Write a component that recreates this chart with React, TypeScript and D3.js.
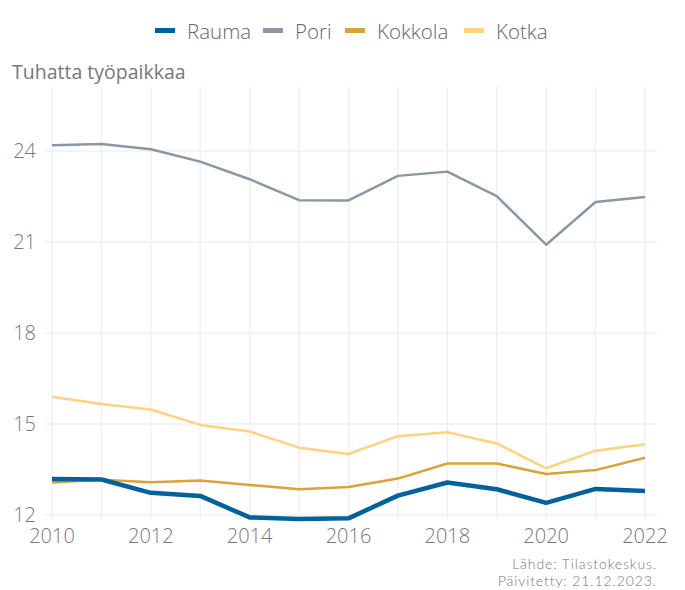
import React from "react";
import * as d3 from "d3";

const years = [2010, 2011, 2012, 2013, 2014, 2015, 2016, 2017, 2018, 2019, 2020, 2021, 2022];
const rauma = [13.19, 13.17, 12.73, 12.63, 11.92, 11.87, 11.89, 12.64, 13.07, 12.85, 12.4, 12.86, 12.79];
const pori = [24.19, 24.23, 24.06, 23.65, 23.07, 22.38, 22.37, 23.18, 23.32, 22.51, 20.91, 22.32, 22.48];
const kokkola = [13.07, 13.16, 13.08, 13.14, 12.99, 12.85, 12.92, 13.2, 13.7, 13.7, 13.35, 13.48, 13.89];
const kotka = [15.9, 15.66, 15.48, 14.97, 14.75, 14.22, 14.01, 14.6, 14.73, 14.36, 13.54, 14.12, 14.33];
const seriesNames = ["Rauma", "Pori", "Kokkola", "Kotka"];
const yTicks = [12, 15, 18, 21, 24];
const xTicks = [2010, 2012, 2014, 2016, 2018, 2020, 2022];

const colors = ["#00629b", "#8a98a3", "#dba236", "#ffd37d"];
const widths = [4.5, 2.5, 2.5, 2.5];

export default function App() {
  const W = 685, H = 590;
  const x = d3.scaleLinear().domain([2010, 2022]).range([52, 645]);
  const y = d3.scaleLinear().domain([12, 24]).range([515, 151]);
  const panelLeft = 45, panelRight = 657, panelTop = 87, panelBottom = 519;
  const data = [rauma, pori, kokkola, kotka];
  const line = d3.line<number>().x((_, i) => x(years[i])).y((v) => y(v));
  const font = "'Open Sans', Lato, sans-serif";
  const legendX = [155, 263, 345, 464];

  return (
    <svg width={W} height={H} style={{ position: "absolute", left: 0, top: 0, background: "#fff" }}>
      {years.map((yr) => (
        <line key={"v" + yr} x1={x(yr)} x2={x(yr)} y1={panelTop} y2={panelBottom} stroke="#f0f0f0" strokeWidth={1.5} />
      ))}
      {yTicks.map((t) => (
        <line key={"h" + t} x1={panelLeft} x2={panelRight} y1={y(t)} y2={y(t)} stroke="#f0f0f0" strokeWidth={1.5} />
      ))}
      {yTicks.map((t) => (
        <text key={"yl" + t} x={36} y={y(t) + 7} textAnchor="end" fontFamily={font} fontWeight={300} fontSize={20} fill="#777">
          {t}
        </text>
      ))}
      {xTicks.map((t) => (
        <text key={"xl" + t} x={x(t)} y={543} textAnchor="middle" fontFamily={font} fontWeight={300} fontSize={20} fill="#777">
          {t}
        </text>
      ))}
      {[1, 2, 3, 0].map((k) => (
        <path key={"s" + k} d={line(data[k]) || ""} fill="none" stroke={colors[k]} strokeWidth={widths[k]} strokeLinejoin="round" />
      ))}
      {seriesNames.map((n, k) => (
        <g key={"lg" + n}>
          <rect x={legendX[k]} y={28} width={20} height={5} fill={colors[k]} />
          <text x={legendX[k] + 32} y={38.5} fontFamily={font} fontWeight={300} fontSize={20.5} fill="#666">
            {n}
          </text>
        </g>
      ))}
      <text x={12} y={78.5} fontFamily={font} fontWeight={400} fontSize={19.5} fill="#777">
        Tuhatta työpaikkaa
      </text>
      <text x={657} y={569} textAnchor="end" fontFamily="Lato, sans-serif" fontWeight={300} fontSize={14} letterSpacing={0.9} fill="#777">
        Lähde: Tilastokeskus.
      </text>
      <text x={657} y={586} textAnchor="end" fontFamily="Lato, sans-serif" fontWeight={300} fontSize={14} letterSpacing={0.9} fill="#777">
        Päivitetty: 21.12.2023.
      </text>
    </svg>
  );
}
